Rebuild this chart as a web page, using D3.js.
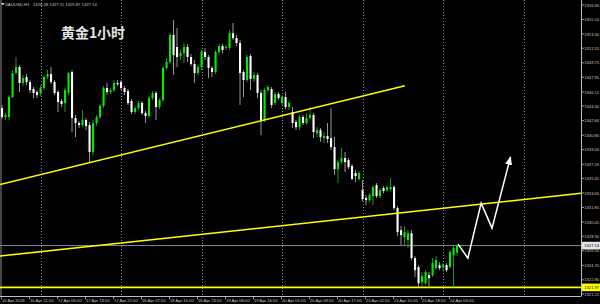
<!DOCTYPE html>
<html><head><meta charset="utf-8">
<script src="https://cdn.jsdelivr.net/npm/d3@7"></script>
<style>html,body{margin:0;padding:0;background:#000;overflow:hidden}</style>
</head><body>
<svg id="c" width="600" height="304"></svg>
<script>
// ---- data (XAUUSD H1) ----
const symbolLabel = "XAUUSD,H1";
const ohlcLabel = "1326.28 1327.11 1325.87 1327.14";
const titleText = "黄金1小时";
const opens = [1344.15,1343.04,1343.04,1345.52,1348.49,1349.23,1347.25,1347.99,1347.37,1346.51,
1346.13,1346.01,1346.63,1347.99,1348.36,1347.37,1346.13,1345.02,1344.77,1346.01,
1348.61,1342.92,1342.30,1342.05,1342.67,1342.05,1338.71,1342.30,1343.04,1344.40,
1346.63,1346.13,1346.38,1347.25,1347.37,1346.63,1346.26,1345.02,1343.66,1344.15,
1344.77,1343.53,1343.16,1345.39,1346.01,1344.28,1345.14,1349.10,1349.85,1353.19,
1351.70,1350.59,1350.96,1351.70,1350.47,1349.60,1348.49,1349.23,1351.08,1350.47,
1349.10,1348.61,1351.08,1351.83,1351.58,1351.58,1353.42,1352.82,1352.20,1348.61,
1347.62,1350.59,1347.74,1348.24,1346.01,1342.67,1346.38,1346.51,1344.77,1345.89,
1344.77,1345.52,1344.28,1343.66,1342.42,1341.80,1343.04,1342.30,1342.92,1343.29,
1341.06,1341.43,1340.44,1340.69,1340.44,1339.33,1336.60,1337.47,1337.96,1337.72,
1336.98,1336.11,1335.37,1334.00,1333.02,1332.77,1333.26,1334.62,1333.26,1334.25,
1334.00,1334.13,1334.38,1331.78,1329.05,1328.19,1327.82,1328.68,1325.59,1324.48,
1322.62,1322.49,1323.49,1323.49,1324.35,1324.72,1324.48,1324.72,1324.48,1325.96,
1326.28];
const highs = [1344.53,1343.53,1345.76,1348.86,1350.47,1349.48,1348.24,1348.36,1347.62,1346.75,
1346.38,1347.00,1348.24,1348.86,1349.23,1347.62,1346.38,1345.27,1346.63,1348.61,
1348.86,1343.29,1342.55,1343.91,1342.92,1342.42,1342.67,1343.29,1344.65,1346.88,
1347.25,1346.63,1347.62,1347.62,1347.62,1346.88,1346.51,1345.27,1344.40,1345.02,
1345.02,1343.78,1345.64,1346.26,1346.26,1345.39,1349.35,1350.34,1353.42,1355.04,
1354.05,1351.33,1352.20,1352.07,1350.84,1350.09,1349.48,1351.33,1351.58,1350.71,
1349.35,1351.33,1352.07,1352.07,1351.95,1353.81,1354.67,1353.19,1352.57,1348.86,
1350.71,1350.84,1348.61,1348.49,1346.38,1346.63,1347.00,1346.75,1346.13,1346.13,
1345.76,1346.13,1345.02,1344.28,1342.67,1343.29,1343.29,1343.53,1344.28,1343.53,
1341.80,1341.68,1341.18,1342.30,1344.15,1340.56,1337.72,1339.20,1338.71,1337.96,
1337.22,1336.48,1336.36,1335.24,1333.39,1333.63,1334.62,1334.87,1334.25,1334.50,
1334.62,1335.49,1334.62,1332.02,1329.55,1329.55,1329.05,1329.05,1325.84,1324.72,
1323.86,1324.10,1323.86,1325.59,1325.84,1325.09,1324.97,1324.97,1326.58,1327.07,
1327.14];
const lows = [1342.79,1342.67,1342.67,1345.39,1348.24,1346.13,1346.88,1347.00,1346.01,1345.39,
1345.39,1345.64,1346.38,1347.74,1347.12,1345.76,1343.66,1344.28,1343.66,1345.76,
1341.18,1340.56,1341.68,1341.80,1341.43,1337.47,1338.34,1341.93,1342.79,1344.15,
1345.76,1345.89,1346.13,1346.88,1346.38,1345.76,1344.53,1343.41,1343.41,1343.91,
1343.29,1342.30,1342.92,1345.14,1342.67,1344.03,1344.90,1348.86,1349.60,1348.24,
1349.23,1350.09,1349.72,1349.85,1349.35,1347.25,1348.24,1348.86,1350.09,1347.87,
1347.99,1348.36,1350.84,1350.96,1351.33,1351.33,1352.57,1351.83,1344.53,1345.52,
1347.37,1346.38,1347.37,1345.39,1340.81,1342.42,1346.13,1344.15,1344.53,1345.14,
1344.53,1344.03,1343.91,1341.68,1341.43,1341.43,1342.05,1342.05,1342.79,1340.44,
1340.56,1339.95,1339.82,1339.82,1338.95,1335.88,1334.87,1337.22,1336.23,1336.60,
1335.24,1335.00,1335.12,1332.64,1332.15,1332.52,1332.15,1333.02,1333.02,1333.63,
1333.76,1333.88,1331.53,1328.31,1327.20,1327.20,1326.83,1325.34,1323.24,1322.00,
1322.12,1322.25,1322.12,1323.24,1324.10,1324.10,1324.10,1323.86,1324.35,1322.00,
1325.87];
const closes = [1343.04,1343.29,1345.52,1348.49,1349.23,1347.25,1347.87,1347.37,1346.38,1346.01,
1345.76,1346.63,1347.99,1348.36,1347.37,1346.01,1344.90,1344.65,1346.38,1348.49,
1342.92,1342.30,1342.05,1342.67,1341.93,1338.71,1342.30,1343.04,1344.40,1346.63,
1346.13,1346.38,1347.25,1347.12,1346.63,1346.13,1344.77,1343.66,1344.15,1344.77,
1343.53,1343.16,1345.39,1346.01,1344.28,1345.14,1349.10,1349.85,1353.19,1350.71,
1350.47,1350.96,1351.70,1350.47,1349.60,1348.49,1349.23,1351.08,1350.47,1349.10,
1348.61,1351.08,1351.83,1351.33,1351.70,1353.42,1352.82,1352.20,1348.49,1347.62,
1350.47,1347.74,1348.24,1346.01,1342.67,1346.38,1346.75,1344.53,1345.89,1345.39,
1345.52,1344.28,1344.77,1342.30,1341.80,1343.04,1342.30,1342.92,1343.29,1341.18,
1341.43,1340.56,1340.69,1340.32,1339.33,1336.60,1337.47,1337.96,1337.47,1336.85,
1335.37,1335.74,1336.11,1332.89,1332.77,1333.39,1334.38,1333.26,1334.00,1333.88,
1334.38,1334.38,1331.78,1328.81,1328.44,1328.81,1328.68,1325.59,1324.10,1322.49,
1323.36,1323.86,1323.11,1324.97,1325.34,1324.35,1324.72,1324.10,1326.33,1326.83,
1327.14];
const priceTicks = ["1356.90","1355.10","1353.30","1351.55","1349.75","1347.95","1346.15",
"1344.40","1342.60","1340.80","1339.00","1337.20","1335.45","1333.65","1331.85","1330.05",
"1328.30","1326.50","1324.70","1322.90","1321.15"];
const timeLabels = ["16 Apr 2018","16 Apr 21:00","17 Apr 05:00","17 Apr 13:00","17 Apr 22:00",
"18 Apr 07:00","18 Apr 15:00","18 Apr 23:00","19 Apr 08:00","19 Apr 16:00","20 Apr 01:00",
"20 Apr 09:00","20 Apr 17:00","23 Apr 02:00","23 Apr 10:00","23 Apr 18:00","24 Apr 03:00"];
const timeLabelBars = [0,8,16,24,32,40,48,56,64,72,80,88,96,104,112,120,128];
const daySeparatorBars = [11,34,57,80,103,126,149];
const trendLine1 = [[-0.6,1334.70],[115.1,1346.90]];
const trendLine2 = [[-0.6,1325.84],[165.4,1333.60]];
const arrowPath = [[130.3,1327.32],[133.1,1325.59],[136.9,1332.39],[140.0,1329.30],[145.3,1338.10]];
const bidPrice = 1327.14;
const supportPrice = 1321.97;

// ---- drawing ----
const W = 600, H = 304, axisX = 581.5, axisY = 296;
const svg = d3.select('#c');
svg.append('rect').attr('width', W).attr('height', H).attr('fill', '#000');

const x = d3.scaleLinear().domain([0, 166]).range([2, 583]);
const y = d3.scaleLinear().domain([1321.15, 1356.90]).range([294, 5]);

const defs = svg.append('defs');
defs.append('clipPath').attr('id', 'plot').append('rect')
  .attr('x', 0).attr('y', 0).attr('width', axisX).attr('height', axisY);
defs.append('marker').attr('id', 'ah').attr('markerUnits', 'userSpaceOnUse')
  .attr('markerWidth', 10).attr('markerHeight', 8).attr('refX', 8).attr('refY', 3.5)
  .attr('orient', 'auto')
  .append('path').attr('d', 'M0,0 L9,3.5 L0,7 Z').attr('fill', '#fff');

const plot = svg.append('g').attr('clip-path', 'url(#plot)');

// left border
plot.append('line').attr('x1', 1).attr('x2', 1).attr('y1', 0).attr('y2', axisY)
  .attr('stroke', '#8a8a8a').attr('stroke-width', 1);

// day separators
plot.selectAll('line.sep').data(daySeparatorBars).join('line').attr('class', 'sep')
  .attr('x1', d => Math.round(x(d)) + 0.5).attr('x2', d => Math.round(x(d)) + 0.5)
  .attr('y1', 0).attr('y2', axisY)
  .attr('stroke', '#8c8c8c').attr('stroke-width', 1).attr('stroke-dasharray', '1,2');

// bid line and support line
plot.append('line').attr('x1', 0).attr('x2', axisX)
  .attr('y1', y(bidPrice)).attr('y2', y(bidPrice))
  .attr('stroke', '#7d8894').attr('stroke-width', 1);
plot.append('line').attr('x1', 0).attr('x2', axisX)
  .attr('y1', y(supportPrice)).attr('y2', y(supportPrice))
  .attr('stroke', '#ffff00').attr('stroke-width', 1.6);

// candles
const bars = opens.map((o, i) => ({i, o, h: highs[i], l: lows[i], c: closes[i]}));
const cg = plot.append('g');
cg.selectAll('line.wick').data(bars).join('line').attr('class', 'wick')
  .attr('x1', d => x(d.i)).attr('x2', d => x(d.i))
  .attr('y1', d => y(d.h)).attr('y2', d => y(d.l))
  .attr('stroke', d => d.c >= d.o ? '#1ea51e' : '#a8a8a8').attr('stroke-width', 0.9);
cg.selectAll('rect.body').data(bars).join('rect').attr('class', 'body')
  .attr('x', d => x(d.i) - 1).attr('width', 2.1)
  .attr('y', d => y(Math.max(d.o, d.c)))
  .attr('height', d => Math.max(1, Math.abs(y(d.o) - y(d.c))))
  .attr('fill', d => d.c >= d.o ? '#00ee00' : '#ffffff');

// trend lines
const lineGen = d3.line().x(d => x(d[0])).y(d => y(d[1]));
[trendLine1, trendLine2].forEach(t => {
  plot.append('path').attr('d', lineGen(t)).attr('fill', 'none')
    .attr('stroke', '#ffff00').attr('stroke-width', 1.5);
});

// arrow
plot.append('path').attr('d', lineGen(arrowPath)).attr('fill', 'none')
  .attr('stroke', '#ffffff').attr('stroke-width', 1.5).attr('stroke-linejoin', 'miter')
  .attr('marker-end', 'url(#ah)');

// axes lines
svg.append('line').attr('x1', axisX).attr('x2', axisX).attr('y1', 0).attr('y2', axisY)
  .attr('stroke', '#bdbdbd').attr('stroke-width', 1);
svg.append('line').attr('x1', 0).attr('x2', axisX).attr('y1', axisY + 0.5).attr('y2', axisY + 0.5)
  .attr('stroke', '#bdbdbd').attr('stroke-width', 1);

// price labels
const pf = '"Liberation Sans", Arial, sans-serif';
const pg = svg.append('g');
priceTicks.forEach(t => {
  const yy = y(+t);
  pg.append('line').attr('x1', axisX).attr('x2', axisX + 2.5).attr('y1', yy).attr('y2', yy)
    .attr('stroke', '#bdbdbd').attr('stroke-width', 0.8);
  pg.append('text').attr('x', 584.3).attr('y', yy + 1.6).text(t)
    .attr('font-family', pf).attr('font-size', 4.1).attr('fill', '#c4c4c4');
});
[[bidPrice, '#e4e4e4'], [supportPrice, '#ffff00']].forEach(([p, col]) => {
  const yy = y(p);
  pg.append('rect').attr('x', 582).attr('y', yy - 3.8).attr('width', 18).attr('height', 7.6).attr('fill', col);
  pg.append('text').attr('x', 584.3).attr('y', yy + 1.6).text(p.toFixed(2))
    .attr('font-family', pf).attr('font-size', 4.1).attr('fill', '#000');
});

// time labels
const tg = svg.append('g');
timeLabels.forEach((t, k) => {
  const xx = x(timeLabelBars[k]) - 1;
  tg.append('line').attr('x1', xx + 0.5).attr('x2', xx + 0.5).attr('y1', axisY).attr('y2', axisY + 3)
    .attr('stroke', '#bdbdbd').attr('stroke-width', 0.8);
  tg.append('text').attr('x', xx + 1).attr('y', 301.6).text(t)
    .attr('font-family', pf).attr('font-size', 4.2).attr('fill', '#c4c4c4');
});

// header
svg.append('path').attr('d', 'M1,3 L4.5,3 L2.75,5.5 Z').attr('fill', '#dcdcdc');
svg.append('text').attr('x', 5).attr('y', 6).text(symbolLabel)
  .attr('font-family', pf).attr('font-size', 4.3).attr('fill', '#c8c8c8');
svg.append('text').attr('x', 33).attr('y', 6).text(ohlcLabel)
  .attr('font-family', pf).attr('font-size', 4.2).attr('fill', '#c8c8c8');

// title
svg.append('text').attr('x', 61).attr('y', 38).text(titleText)
  .attr('font-family', '"Noto Sans CJK SC", sans-serif').attr('font-weight', 'bold')
  .attr('font-size', 14).attr('fill', '#e2e2e2')
  .attr('textLength', 64).attr('lengthAdjust', 'spacingAndGlyphs');
</script>
</body></html>
